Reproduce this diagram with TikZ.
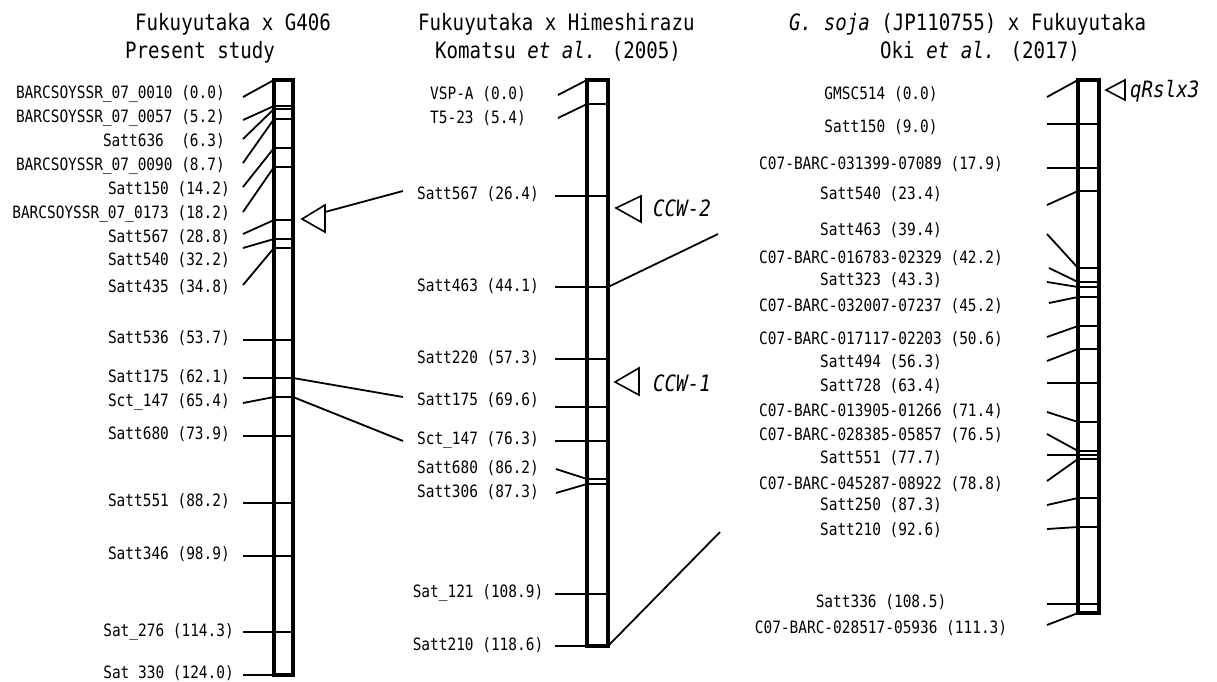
\documentclass[tikz,border=0pt]{standalone}
\usepackage{fontspec}
\newfontfamily\mkfont[FakeStretch=0.85]{DejaVu Sans Mono}
\begin{document}
\begin{tikzpicture}[x=1pt,y=-1pt,
  lab/.style={font=\mkfont\fontsize{17}{19}\selectfont, inner sep=0pt, text height=12.4pt, text depth=0pt},
  hd/.style={font=\mkfont\fontsize{22.5}{25}\selectfont, inner sep=0pt, text height=16.4pt, text depth=0pt, anchor=west},
  qtl/.style={font=\mkfont\fontsize{22.5}{25}\selectfont\itshape, inner sep=0pt, text height=16.4pt, text depth=0pt, anchor=west},
  chrom/.style={line width=3.2pt, line join=miter},
  tick/.style={line width=1.5pt},
  lead/.style={line width=1.8pt},
  tri/.style={line width=1.6pt, fill=white, line join=miter}]
\useasboundingbox (0,0) rectangle (1217,681);

% ---------- headers ----------
\node[hd] (h1a) at (135,22) {Fukuyutaka x G406};
\node[hd] (h1b) at (125,50) {Present study};
\node[hd] (h2a) at (418,22) {Fukuyutaka x Himeshirazu};
\node[hd] (h2b) at (435,50) {Komatsu \textit{et al.} (2005)};
\node[hd] (h3a) at (789,22) {\textit{G. soja} (JP110755) x Fukuyutaka};
\node[hd] (h3b) at (880,50) {Oki \textit{et al.} (2017)};

% ---------- left chromosome ----------
\coordinate (LBtl) at (274,80); \coordinate (LBbr) at (293,675);
\foreach \n/\my/\lx/\ly/\sy/\t in {
  1/80/225/92/97/{BARCSOYSSR\_07\_0010 (0.0)},
  2/106/225/116/120/{BARCSOYSSR\_07\_0057 (5.2)},
  3/109/225/140/139/{Satt636~~(6.3)},
  4/119/225/164/163/{BARCSOYSSR\_07\_0090 (8.7)},
  5/148/230/188/187/{Satt150 (14.2)},
  6/167/230/212/212/{BARCSOYSSR\_07\_0173 (18.2)},
  7/220/230/236/234/{Satt567 (28.8)},
  8/239/230/259/248/{Satt540 (32.2)},
  9/248/230/286/285/{Satt435 (34.8)},
  10/340/230/337/340/{Satt536 (53.7)},
  11/378/230/376/378/{Satt175 (62.1)},
  12/397/230/400/403/{Sct\_147 (65.4)},
  13/436/230/433/436/{Satt680 (73.9)},
  14/503/230/500/503/{Satt551 (88.2)},
  15/556/230/553/556/{Satt346 (98.9)},
  16/632/234/630/632/{Sat\_276 (114.3)},
  17/675/234/672/675/{Sat 330 (124.0)}}{
  \coordinate (Lm\n) at (274,\my);
  \coordinate (Lr\n) at (293,\my);
  \coordinate (Ls\n) at (243,\sy);
  \draw[tick] (Lm\n) -- (Lr\n);
  \draw[lead] (Ls\n) -- (Lm\n);
  \node[lab,anchor=east] (Lt\n) at (\lx,\ly) {\t};
}
\draw[chrom] (LBtl) rectangle (LBbr);

% ---------- middle chromosome ----------
\coordinate (MBtl) at (587,80); \coordinate (MBbr) at (608,646);
\foreach \n/\my/\ly/\sx/\sy/\t in {
  1/80/93/558/95/{VSP-A (0.0)},
  2/104/117/558/118/{T5-23 (5.4)},
  3/196/193/555/196/{Satt567 (26.4)},
  4/287/285/555/287/{Satt463 (44.1)},
  5/359/357/555/359/{Satt220 (57.3)},
  6/407/399/555/407/{Satt175 (69.6)},
  7/441/438/555/441/{Sct\_147 (76.3)},
  8/479/467/556/469/{Satt680 (86.2)},
  9/484/491/556/493/{Satt306 (87.3)},
  10/594/591/555/594/{Sat\_121 (108.9)},
  11/646/644/555/646/{Satt210 (118.6)}}{
  \coordinate (Mm\n) at (587,\my);
  \coordinate (Mr\n) at (608,\my);
  \coordinate (Ms\n) at (\sx,\sy);
  \draw[tick] (Mm\n) -- (Mr\n);
  \draw[lead] (Ms\n) -- (Mm\n);
  \node[lab] (Mt\n) at (478,\ly) {\t};
}
\draw[chrom] (MBtl) rectangle (MBbr);

% ---------- right chromosome ----------
\coordinate (RBtl) at (1078,80); \coordinate (RBbr) at (1099,613);
\foreach \n/\my/\ly/\sx/\sy/\t in {
  1/80/93/1047/97/{GMSC514 (0.0)},
  2/124/126/1047/124/{Satt150 (9.0)},
  3/168/163/1047/168/{C07-BARC-031399-07089 (17.9)},
  4/191/193/1047/205/{Satt540 (23.4)},
  5/268/229/1047/234/{Satt463 (39.4)},
  6/282/257/1049/268/{C07-BARC-016783-02329 (42.2)},
  7/287/279/1047/282/{Satt323 (43.3)},
  8/297/305/1049/303/{C07-BARC-032007-07237 (45.2)},
  9/326/338/1047/337/{C07-BARC-017117-02203 (50.6)},
  10/349/361/1047/361/{Satt494 (56.3)},
  11/383/385/1047/383/{Satt728 (63.4)},
  12/422/410/1047/412/{C07-BARC-013905-01266 (71.4)},
  13/451/434/1047/434/{C07-BARC-028385-05857 (76.5)},
  14/455/457/1047/455/{Satt551 (77.7)},
  15/459/483/1047/481/{C07-BARC-045287-08922 (78.8)},
  16/498/504/1047/505/{Satt250 (87.3)},
  17/527/529/1047/529/{Satt210 (92.6)},
  18/604/601/1047/604/{Satt336 (108.5)},
  19/613/627/1047/625/{C07-BARC-028517-05936 (111.3)}}{
  \coordinate (Rm\n) at (1078,\my);
  \coordinate (Rr\n) at (1099,\my);
  \coordinate (Rs\n) at (\sx,\sy);
  \draw[tick] (Rm\n) -- (Rr\n);
  \draw[lead] (Rs\n) -- (Rm\n);
  \node[lab] (Rt\n) at (881,\ly) {\t};
}
\draw[chrom] (RBtl) rectangle (RBbr);

% ---------- connectors between maps ----------
\coordinate (X1) at (403,397);
\coordinate (X2) at (403,441);
\coordinate (X3) at (403,191);
\coordinate (X4) at (718,234);
\coordinate (X5) at (720,532);
\draw[lead] (Lr11) -- (X1);
\draw[lead] (Lr12) -- (X2);
\draw[lead] (Mr4) -- (X4);
\draw[lead] (Mr11) -- (X5);

% ---------- QTL triangles ----------
\coordinate (T1a) at (302,219); \coordinate (T1b) at (325,205); \coordinate (T1c) at (325,232);
\coordinate (T1m) at (325,212);
\draw[lead] (T1m) -- (X3);
\draw[tri] (T1a) -- (T1b) -- (T1c) -- cycle;

\coordinate (T2a) at (616,208); \coordinate (T2b) at (641,196); \coordinate (T2c) at (641,222);
\draw[tri] (T2a) -- (T2b) -- (T2c) -- cycle;
\node[qtl] (q2) at (653,208) {CCW-2};

\coordinate (T3a) at (615,382); \coordinate (T3b) at (639,368); \coordinate (T3c) at (639,395);
\draw[tri] (T3a) -- (T3b) -- (T3c) -- cycle;
\node[qtl] (q1) at (653,383) {CCW-1};

\coordinate (T4a) at (1106,90); \coordinate (T4b) at (1125,80); \coordinate (T4c) at (1125,100);
\draw[tri] (T4a) -- (T4b) -- (T4c) -- cycle;
\node[qtl] (q3) at (1130,89) {qRslx3};
\end{tikzpicture}
\end{document}
